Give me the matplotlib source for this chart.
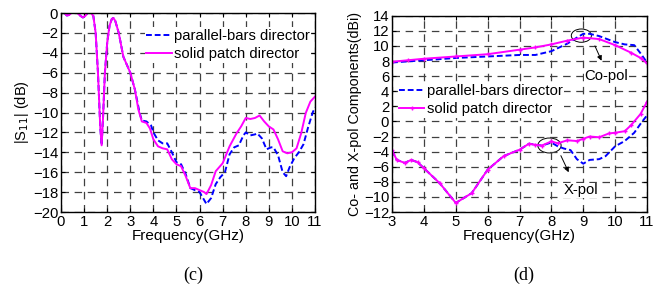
import matplotlib
matplotlib.use('Agg')
import matplotlib.pyplot as plt
from matplotlib.patches import Ellipse

# ---------------------------------------------------------------------------
# data
# ---------------------------------------------------------------------------

# (c) |S11|
s11_f_patch = [0.15, 0.25, 0.35, 0.45, 0.7, 0.85, 0.95, 1.05, 1.15, 1.3, 1.4, 1.5,
               1.6, 1.7, 1.76, 1.82, 1.9, 2.0, 2.1, 2.2, 2.27, 2.35, 2.5, 2.7,
               3.0, 3.2, 3.35, 3.5, 3.7, 3.85, 4.0, 4.2, 4.4, 4.6, 4.8, 5.0,
               5.2, 5.4, 5.6, 5.8, 6.0, 6.2, 6.3, 6.5, 6.7, 7.0, 7.3, 7.6,
               7.8, 8.0, 8.2, 8.4, 8.6, 8.8, 9.0, 9.2, 9.4, 9.6, 9.8, 10.0,
               10.2, 10.4, 10.6, 10.8, 11.0]
s11_patch = [0.0, -0.25, -0.2, 0.0, 0.0, -0.3, -0.45, -0.3, 0.0, 0.0, -0.3, -2.0,
             -6.0, -11.5, -13.3, -10.5, -6.0, -3.0, -1.3, -0.6, -0.5, -0.8, -2.0, -4.4,
             -6.0, -7.7, -9.7, -10.9, -11.05, -11.6, -12.7, -13.4, -13.6, -13.7, -14.7, -15.2,
             -15.4, -16.4, -17.6, -17.6, -17.8, -18.0, -18.2, -17.3, -15.9, -15.1, -13.4, -12.1,
             -11.4, -10.55, -10.65, -10.55, -10.3, -10.9, -11.4, -11.7, -12.7, -13.9, -14.1, -14.0,
             -13.6, -12.1, -10.05, -8.9, -8.4]

s11_f_bars = [0.15, 0.25, 0.35, 0.45, 0.7, 0.85, 0.95, 1.05, 1.15, 1.3, 1.4, 1.5,
              1.6, 1.7, 1.76, 1.82, 1.9, 2.0, 2.1, 2.2, 2.27, 2.35, 2.5, 2.7,
              3.0, 3.2, 3.4, 3.5, 3.7, 3.9, 4.0, 4.2, 4.4, 4.6, 4.8, 5.0,
              5.2, 5.4, 5.6, 5.8, 6.0, 6.15, 6.3, 6.5, 6.7, 6.9, 7.1, 7.3,
              7.5, 7.7, 7.9, 8.0, 8.2, 8.4, 8.5, 8.7, 8.9, 9.1, 9.2, 9.4,
              9.6, 9.75, 9.9, 10.1, 10.3, 10.5, 10.7, 10.9, 11.0]
s11_bars = [0.0, -0.25, -0.2, 0.0, 0.0, -0.3, -0.45, -0.3, 0.0, 0.0, -0.3, -2.0,
            -6.0, -11.5, -13.3, -10.5, -6.0, -3.0, -1.3, -0.6, -0.5, -0.8, -2.0, -4.4,
            -6.0, -7.7, -10.0, -10.8, -10.9, -11.3, -12.0, -12.8, -13.1, -13.1, -14.0, -15.0,
            -15.2, -16.2, -17.6, -17.8, -18.0, -18.6, -19.2, -18.6, -17.2, -16.5, -16.0, -14.2,
            -13.5, -13.3, -12.3, -12.0, -12.3, -12.2, -12.1, -12.6, -13.7, -13.5, -13.5, -14.3,
            -16.0, -16.4, -15.5, -14.6, -14.0, -13.2, -11.5, -10.0, -9.5]

# (d) co-pol / x-pol
co_f_patch = [3.0, 3.5, 4.0, 5.0, 6.0, 7.0, 7.5, 8.0, 8.5, 9.0, 9.5, 10.0, 10.5, 10.8, 11.0]
co_patch = [7.9, 8.1, 8.3, 8.6, 8.9, 9.5, 9.8, 10.2, 10.7, 11.1, 10.9, 10.1, 9.1, 8.4, 7.7]
co_f_bars = [3.0, 4.0, 5.0, 6.0, 7.0, 7.5, 8.0, 8.5, 8.8, 9.0, 9.2, 9.5, 10.0, 10.3, 10.6, 10.8, 11.0]
co_bars = [7.8, 8.1, 8.4, 8.6, 8.8, 8.8, 9.3, 10.3, 11.1, 11.6, 11.6, 11.3, 10.5, 10.2, 10.1, 9.0, 7.8]

x_f_patch = [3.0, 3.15, 3.4, 3.6, 3.8, 4.0, 4.5, 5.0, 5.5, 6.0, 6.5, 7.0, 7.3, 7.5, 7.7, 8.0,
             8.2, 8.5, 8.8, 9.0, 9.2, 9.5, 9.8, 10.0, 10.3, 10.5, 10.8, 11.0]
x_patch = [-3.85, -5.1, -5.5, -5.1, -5.4, -6.2, -8.2, -10.8, -9.5, -6.4, -4.6, -3.75, -2.95, -3.1, -3.2, -2.65,
           -2.9, -2.5, -2.6, -2.3, -2.0, -2.1, -1.6, -1.5, -1.3, -0.5, 1.0, 2.6]
x_f_bars = [3.0, 3.15, 3.4, 3.6, 3.8, 4.0, 4.5, 5.0, 5.5, 6.0, 6.5, 7.0, 7.3, 7.5, 7.7, 8.0,
            8.2, 8.4, 8.6, 8.8, 9.0, 9.2, 9.5, 9.7, 10.0, 10.3, 10.6, 10.8, 11.0]
x_bars = [-3.85, -5.1, -5.5, -5.1, -5.4, -6.2, -8.2, -10.8, -9.5, -6.4, -4.6, -3.75, -2.95, -3.1, -3.2, -2.8,
          -3.3, -3.6, -3.8, -5.0, -5.6, -5.1, -5.0, -4.6, -3.3, -2.6, -1.5, -0.3, 0.8]

LABELS = ['parallel-bars director', 'solid patch director']

# ---------------------------------------------------------------------------
# styling
# ---------------------------------------------------------------------------
plt.rcParams['font.family'] = ['Liberation Sans', 'DejaVu Sans']
FS = 10.7

BLUE = '#0000ff'
MAGENTA = '#ff00ff'
DASH = (0, (3, 1.5))
GRID = dict(color='0.25', linestyle=(0, (6, 4.5)), linewidth=0.9)


def style(ax):
    ax.grid(True, **GRID)
    ax.tick_params(direction='in', length=3, top=True, right=True,
                   labeltop=False, labelright=False, pad=2, labelsize=FS)
    for sp in ax.spines.values():
        sp.set_linewidth(1.0)
    ax.set_xlabel('Frequency(GHz)', labelpad=0, fontsize=11)


def legend(ax, anchor):
    return ax.legend(loc='upper left', bbox_to_anchor=anchor, frameon=True,
                     fancybox=False, edgecolor='none', facecolor='white',
                     framealpha=1, handlelength=1.7, handletextpad=0.15,
                     borderpad=0.1, labelspacing=0.3, borderaxespad=0,
                     fontsize=FS)


fig = plt.figure(figsize=(6.64, 2.87), dpi=100)
ax1 = fig.add_axes([0.0919, 0.2613, 0.3825, 0.6934])
ax2 = fig.add_axes([0.5904, 0.2613, 0.3840, 0.6840])

# --- (c) ---
ax1.plot(s11_f_bars, s11_bars, color=BLUE, ls=DASH, lw=1.4, label=LABELS[0])
ax1.plot(s11_f_patch, s11_patch, color=MAGENTA, lw=1.4, label=LABELS[1])
ax1.set_xlim(0, 11)
ax1.set_ylim(-20, 0)
ax1.set_xticks(range(0, 12))
ax1.set_yticks(range(-20, 1, 2))
ax1.set_ylabel('|S$_{11}$| (dB)', labelpad=1, fontsize=10.5)
style(ax1)
legend(ax1, (0.33, 0.928))

# --- (d) ---
ax2.plot(co_f_bars, co_bars, color=BLUE, ls=DASH, lw=1.4)
ax2.plot(co_f_patch, co_patch, color=MAGENTA, lw=1.4, marker='+', ms=2.5)
ax2.plot(x_f_bars, x_bars, color=BLUE, ls=DASH, lw=1.4, label=LABELS[0])
ax2.plot(x_f_patch, x_patch, color=MAGENTA, lw=1.4, marker='+', ms=2.5, label=LABELS[1])
ax2.set_xlim(3, 11)
ax2.set_ylim(-12, 14)
ax2.set_xticks(range(3, 12))
ax2.set_yticks(range(-12, 15, 2))
ax2.set_ylabel('Co- and X-pol Components(dBi)', labelpad=1, fontsize=10.3)
style(ax2)
legend(ax2, (0.022, 0.66))

# annotations
ax2.add_patch(Ellipse((8.94, 11.36), 0.63, 1.76, fill=False, ec='black', lw=0.7))
ax2.annotate('', xy=(9.61, 7.7), xytext=(9.33, 10.34),
             arrowprops=dict(arrowstyle='-|>', color='black', lw=0.7, mutation_scale=7))
ax2.text(9.73, 6.0, 'Co-pol', ha='center', va='center', fontsize=FS,
         bbox=dict(fc='white', ec='none', pad=0.5))
ax2.add_patch(Ellipse((7.94, -3.19), 0.73, 1.98, fill=False, ec='black', lw=0.7))
ax2.annotate('', xy=(8.58, -7.07), xytext=(8.26, -4.2),
             arrowprops=dict(arrowstyle='-|>', color='black', lw=0.7, mutation_scale=7))
ax2.text(8.94, -9.14, 'X-pol', ha='center', va='center', fontsize=FS,
         bbox=dict(fc='white', ec='none', pad=0.5))

# panel labels
serif = ['Liberation Serif', 'DejaVu Serif']
fig.text(193 / 664, 1 - 275 / 287, '(c)', ha='center', va='center',
         family=serif, fontsize=13)
fig.text(524 / 664, 1 - 275 / 287, '(d)', ha='center', va='center',
         family=serif, fontsize=13)

fig.savefig('out.png', dpi=100)
